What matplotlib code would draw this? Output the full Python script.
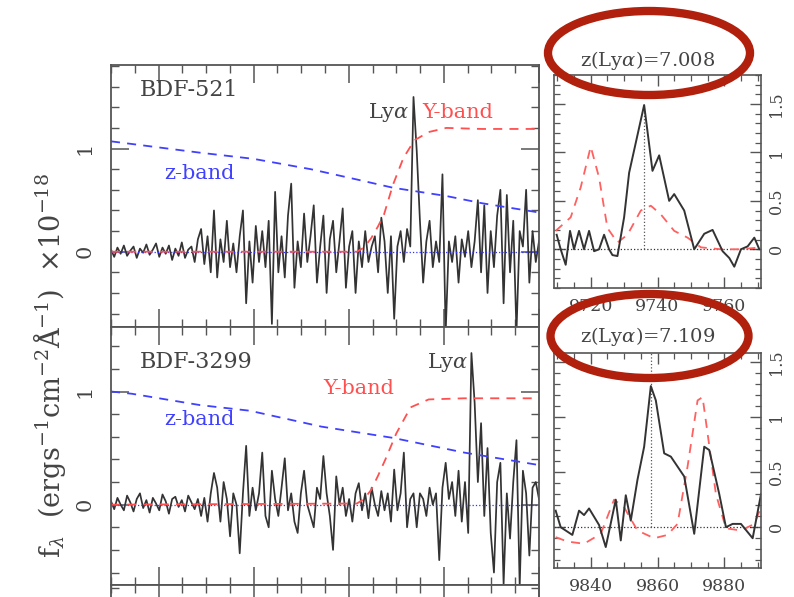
import numpy as np
import matplotlib
matplotlib.use("Agg")
import matplotlib.pyplot as plt
from matplotlib.ticker import MultipleLocator, NullFormatter, FixedLocator
from matplotlib.patches import Ellipse

plt.rcParams['font.family'] = ['DejaVu Serif']
plt.rcParams['mathtext.fontset'] = 'dejavuserif'

# ---- left panels: 1D spectra (flux in 1e-18 units)
flux_521 = [0.02, -0.05, 0.04, -0.02, 0.06, -0.04, 0.01, 0.05, -0.06, 0.03,
            -0.01, 0.07, -0.03, 0.02, 0.08, -0.05, 0.04, -0.02, 0.06, -0.08,
            0.03, -0.04, 0.09, -0.06, 0.02, 0.05, -0.10, 0.12, 0.22, -0.12,
            0.15, -0.20, 0.40, -0.25, 0.12, -0.10, 0.30, -0.15, 0.08, -0.20,
            0.15, 0.40, -0.50, 0.10, -0.30, 0.25, -0.10, 0.20, -0.15, 0.30,
            -0.70, 0.58, -0.20, 0.15, -0.25, 0.35, 0.66, -0.35, 0.10, -0.15,
            0.37, -0.10, 0.15, 0.45, -0.30, 0.05, 0.35, -0.40, 0.12, 0.30,
            -0.20, 0.10, 0.42, -0.35, 0.05, 0.20, -0.40, 0.10, -0.15, 0.20,
            -0.10, 0.05, 0.15, -0.20, 0.33, 0.10, -0.40, 0.15, -0.65, 0.05,
            0.20, -0.10, 0.22, 0.05, 1.50, 0.98, 0.30, -0.30, 0.10, 0.30,
            -0.15, 0.10, -0.10, 0.75, -0.78, 0.10, -0.10, 0.15, -0.30, 0.12,
            -0.05, 0.20, -0.15, 0.10, 0.50, -0.20, 0.45, -0.40, 0.20, -0.15,
            0.35, 0.60, -0.50, 0.55, -0.20, 0.30, -0.78, 0.20, 0.05, 0.60,
            -0.30, 0.20, -0.10, 0.10]
flux_3299 = [0.03, -0.04, 0.06, 0.00, -0.05, 0.08, 0.02, -0.06, 0.05, 0.10,
             -0.03, 0.04, -0.07, 0.06, 0.01, -0.05, 0.09, 0.03, -0.08, 0.05,
             0.07, -0.02, 0.04, -0.06, 0.08, 0.02, -0.04, 0.05, -0.10, 0.06,
             -0.15, 0.10, 0.28, 0.15, -0.15, 0.20, 0.05, -0.28, 0.10, 0.00,
             -0.43, 0.10, 0.52, -0.10, 0.15, -0.05, 0.10, 0.46, -0.10, -0.20,
             0.30, 0.05, -0.10, 0.15, 0.41, -0.05, 0.10, -0.15, -0.25, 0.10,
             0.30, 0.00, -0.10, -0.20, 0.15, 0.05, 0.43, 0.10, -0.10, -0.40,
             0.25, 0.00, 0.15, -0.10, 0.05, -0.15, 0.10, 0.19, -0.05, 0.10,
             -0.12, 0.15, 0.00, -0.10, 0.12, -0.05, 0.10, -0.15, 0.31, -0.05,
             0.10, 0.46, -0.20, 0.05, 0.10, -0.20, 0.10, 0.05, -0.10, 0.15,
             0.00, 0.10, -0.49, 0.15, 0.37, 0.05, 0.20, -0.10, 0.30, -0.15,
             0.20, -0.25, 1.34, 0.90, 0.20, 0.72, -0.10, 0.50, -0.25, -0.60,
             0.20, 0.37, -0.70, 0.10, -0.30, 0.20, 0.57, -0.72, 0.30, 0.10,
             -0.45, 0.15, 0.20, 0.05]
wave_left = np.linspace(9100, 10000, len(flux_521))

# filter transmission curves (scaled), left panels
zband_wave_521 = [9100, 9287, 9400, 9520, 9617, 9693, 9805, 9880, 10000]
zband_521 = [1.07, 0.96, 0.90, 0.80, 0.70, 0.62, 0.54, 0.47, 0.38]
yband_wave_521 = [9100, 9617, 9632, 9647, 9662, 9674, 9693, 9715, 9738, 9768, 9805, 9880, 10000]
yband_521 = [0.0, 0.0, 0.04, 0.13, 0.25, 0.36, 0.65, 0.91, 1.08, 1.16, 1.20, 1.19, 1.19]

zband_wave_3299 = [9100, 9144, 9287, 9392, 9542, 9693, 9843, 10000]
zband_3299 = [1.00, 0.98, 0.88, 0.83, 0.69, 0.59, 0.46, 0.35]
yband_wave_3299 = [9100, 9617, 9632, 9647, 9662, 9677, 9700, 9730, 9768, 9843, 10000]
yband_3299 = [0.0, 0.01, 0.05, 0.13, 0.26, 0.40, 0.63, 0.86, 0.93, 0.94, 0.94]

# ---- right panels: zoom on Lya
zoom_wave_521 = [9709.8, 9711.0, 9712.5, 9713.8, 9715.0, 9716.5, 9718.0, 9719.5, 9721.0, 9722.5,
                 9724.0, 9725.5, 9726.5, 9728.0, 9730.0, 9731.5, 9736.0, 9738.5, 9740.5, 9743.5,
                 9745.0, 9748.0, 9751.0, 9754.0, 9756.5, 9759.5, 9761.5, 9763.0, 9765.0, 9767.0,
                 9769.0, 9770.5]
zoom_flux_521 = [0.15, 0.00, -0.16, 0.19, 0.00, 0.19, 0.00, 0.19, -0.02, 0.00,
                 0.15, 0.00, -0.06, -0.07, 0.33, 0.79, 1.49, 0.81, 0.97, 0.50,
                 0.57, 0.40, 0.00, 0.16, 0.20, -0.02, -0.09, -0.18, 0.00, 0.03,
                 0.12, 0.00]
zoom_model_wave_521 = [9709.5, 9714.0, 9717.0, 9720.0, 9722.5, 9725.0, 9728.0, 9731.0, 9735.0,
                       9738.0, 9741.0, 9745.0, 9749.0, 9753.0, 9759.0, 9765.0, 9771.0]
zoom_model_521 = [0.19, 0.33, 0.64, 1.06, 0.74, 0.22, 0.07, 0.15, 0.40,
                  0.45, 0.36, 0.19, 0.12, 0.02, 0.00, 0.00, 0.02]

zoom_wave_3299 = [9829.5, 9831.0, 9834.5, 9836.5, 9838.0, 9839.5, 9842.5, 9844.5, 9847.5, 9849.0,
                  9850.5, 9852.0, 9854.0, 9856.0, 9858.0, 9859.5, 9862.0, 9864.0, 9866.0, 9868.0,
                  9871.0, 9874.0, 9875.5, 9878.5, 9880.5, 9882.5, 9885.0, 9888.5, 9891.0]
zoom_flux_3299 = [0.15, 0.00, -0.07, 0.15, 0.11, 0.17, 0.02, -0.18, 0.25, -0.12,
                  0.29, 0.06, 0.43, 0.73, 1.28, 1.15, 0.67, 0.64, 0.55, 0.46,
                  -0.06, 0.73, 0.70, 0.30, 0.00, 0.03, 0.03, -0.10, 0.30]
zoom_model_wave_3299 = [9829.5, 9833.0, 9838.0, 9843.0, 9847.0, 9850.0, 9854.0, 9859.0, 9863.0,
                        9866.0, 9869.0, 9872.0, 9873.5, 9875.0, 9877.5, 9880.5, 9885.0, 9889.0, 9891.0]
zoom_model_3299 = [-0.09, -0.13, -0.15, -0.06, 0.25, 0.18, -0.03, -0.10, -0.07,
                   0.03, 0.55, 1.15, 1.18, 0.85, 0.30, -0.01, -0.03, 0.03, 0.18]

lya_wave = [9736.0, 9858.0]
names = ['BDF-521', 'BDF-3299']
redshift_labels = [r'z(Ly$\alpha$)=7.008', r'z(Ly$\alpha$)=7.109']

W, H = 794, 597
fig = plt.figure(figsize=(W / 100, H / 100), dpi=100)
gray = '#444444'


def box(x0, y0, x1, y1):
    return [x0 / W, 1 - y1 / H, (x1 - x0) / W, (y1 - y0) / H]


def frame(ax, lw=1.3):
    for s in ax.spines.values():
        s.set_color('#555555')
        s.set_linewidth(lw)


# left panels
ax1 = fig.add_axes(box(111, 65, 539, 327))
ax2 = fig.add_axes(box(111, 327, 539, 585))
ax3 = fig.add_axes(box(111, 585, 539, 705))
left_axes = [ax1, ax2]
left_flux = [flux_521, flux_3299]
zw = [zband_wave_521, zband_wave_3299]
zf = [zband_521, zband_3299]
yw = [yband_wave_521, yband_wave_3299]
yf = [yband_521, yband_3299]
ylims = [(-0.73, 1.81), (-0.71, 1.57)]

for k, ax in enumerate(left_axes):
    ax.plot(wave_left, left_flux[k], color='#333333', lw=1.25)
    ax.axhline(0, color='#3030ff', lw=0.9, ls=':')
    ax.plot(zw[k], zf[k], color='#4040ff', lw=1.3, ls=(0, (5, 4)))
    ax.plot(yw[k], yf[k], color='#ff5050', lw=1.3, ls=(0, (5, 4)))
    ax.set_xlim(9100, 10000)
    ax.set_ylim(*ylims[k])

for ax in [ax1, ax2, ax3]:
    ax.xaxis.set_major_locator(MultipleLocator(200))
    ax.xaxis.set_minor_locator(MultipleLocator(50))
    ax.yaxis.set_major_locator(MultipleLocator(1))
    ax.yaxis.set_minor_locator(MultipleLocator(0.2))
    ax.tick_params(which='both', direction='in', top=True, right=True, colors='#555555')
    ax.tick_params(which='major', length=13, width=1.1)
    ax.tick_params(which='minor', length=6, width=1.0)
    ax.tick_params(axis='y', labelsize=15, labelcolor=gray, pad=12)
    ax.xaxis.set_major_formatter(NullFormatter())
    frame(ax)
ax3.set_xlim(9100, 10000)
ax3.set_ylim(-1.5, 0.25)
for ax in [ax1, ax2, ax3]:
    for lbl in ax.get_yticklabels():
        lbl.set_rotation(90)
        lbl.set_va('center')

ax1.text(9160, 1.57, names[0], fontsize=16, color=gray, va='center')
ax1.text(9727, 1.35, r'Ly$\alpha$', fontsize=15, color=gray, ha='right', va='center')
ax1.text(9830, 1.35, 'Y-band', fontsize=15, color='#ff5050', ha='center', va='center')
ax1.text(9285, 0.76, 'z-band', fontsize=15, color='#4040ff', ha='center', va='center')

ax2.text(9160, 1.26, names[1], fontsize=16, color=gray, va='center')
ax2.text(9852, 1.26, r'Ly$\alpha$', fontsize=15, color=gray, ha='right', va='center')
ax2.text(9620, 1.03, 'Y-band', fontsize=15, color='#ff5050', ha='center', va='center')
ax2.text(9285, 0.75, 'z-band', fontsize=15, color='#4040ff', ha='center', va='center')

fig.text(0.062, 0.387, r'f$_\lambda$  (ergs$^{-1}$cm$^{-2}$Å$^{-1}$)  $\times$10$^{-18}$',
         rotation=90, fontsize=19.5, color=gray, ha='center', va='center')

# right panels
axa = fig.add_axes(box(554, 75, 761, 288))
axb = fig.add_axes(box(554, 353, 761, 568))
right = [
    (axa, zoom_wave_521, zoom_flux_521, zoom_model_wave_521, zoom_model_521, (9709, 9771), (-0.40, 1.80), 1.45),
    (axb, zoom_wave_3299, zoom_flux_3299, zoom_model_wave_3299, zoom_model_3299, (9829, 9891), (-0.37, 1.58), 1.58),
]
for k, (ax, w, f, mw, mf, xl, yl, vtop) in enumerate(right):
    ax.axhline(0, color='#333333', lw=0.9, ls=':')
    ax.plot([lya_wave[k], lya_wave[k]], [0, vtop], color='#555555', lw=0.9, ls=':')
    ax.plot(mw, mf, color='#ff6060', lw=1.3, ls=(0, (5, 4)))
    ax.plot(w, f, color='#333333', lw=1.4)
    ax.set_xlim(*xl)
    ax.set_ylim(*yl)
    ax.xaxis.set_major_locator(MultipleLocator(20))
    ax.xaxis.set_minor_locator(MultipleLocator(5))
    ax.yaxis.set_major_locator(MultipleLocator(0.5))
    ax.yaxis.set_minor_locator(MultipleLocator(0.1))
    ax.yaxis.set_major_formatter(matplotlib.ticker.FuncFormatter(lambda v, p: '%g' % v))
    ax.tick_params(which='both', direction='in', top=True, right=True, left=True,
                   labelleft=False, labelright=True, colors='#555555')
    ax.tick_params(which='major', length=8, width=1.0)
    ax.tick_params(which='minor', length=4, width=0.9)
    ax.tick_params(axis='y', labelsize=11.5, labelcolor=gray, pad=5)
    ax.tick_params(axis='x', labelsize=12.5, labelcolor=gray, pad=7)
    for lbl in ax.get_yticklabels():
        lbl.set_rotation(90)
        lbl.set_va('center')
    frame(ax, 1.2)

fig.text(648 / W, 1 - 60 / H, redshift_labels[0], fontsize=14, color=gray, ha='center', va='center')
fig.text(648 / W, 1 - 337 / H, redshift_labels[1], fontsize=14, color=gray, ha='center', va='center')

# red highlight ellipses
fig.add_artist(Ellipse((649 / W, 1 - 53 / H), 202 / W, 84 / H, transform=fig.transFigure,
                       fill=False, ec='#b0200c', lw=6, zorder=10))
fig.add_artist(Ellipse((649.5 / W, 1 - 336 / H), 198 / W, 84 / H, transform=fig.transFigure,
                       fill=False, ec='#b0200c', lw=6, zorder=10))

fig.savefig('out.png', dpi=100)
